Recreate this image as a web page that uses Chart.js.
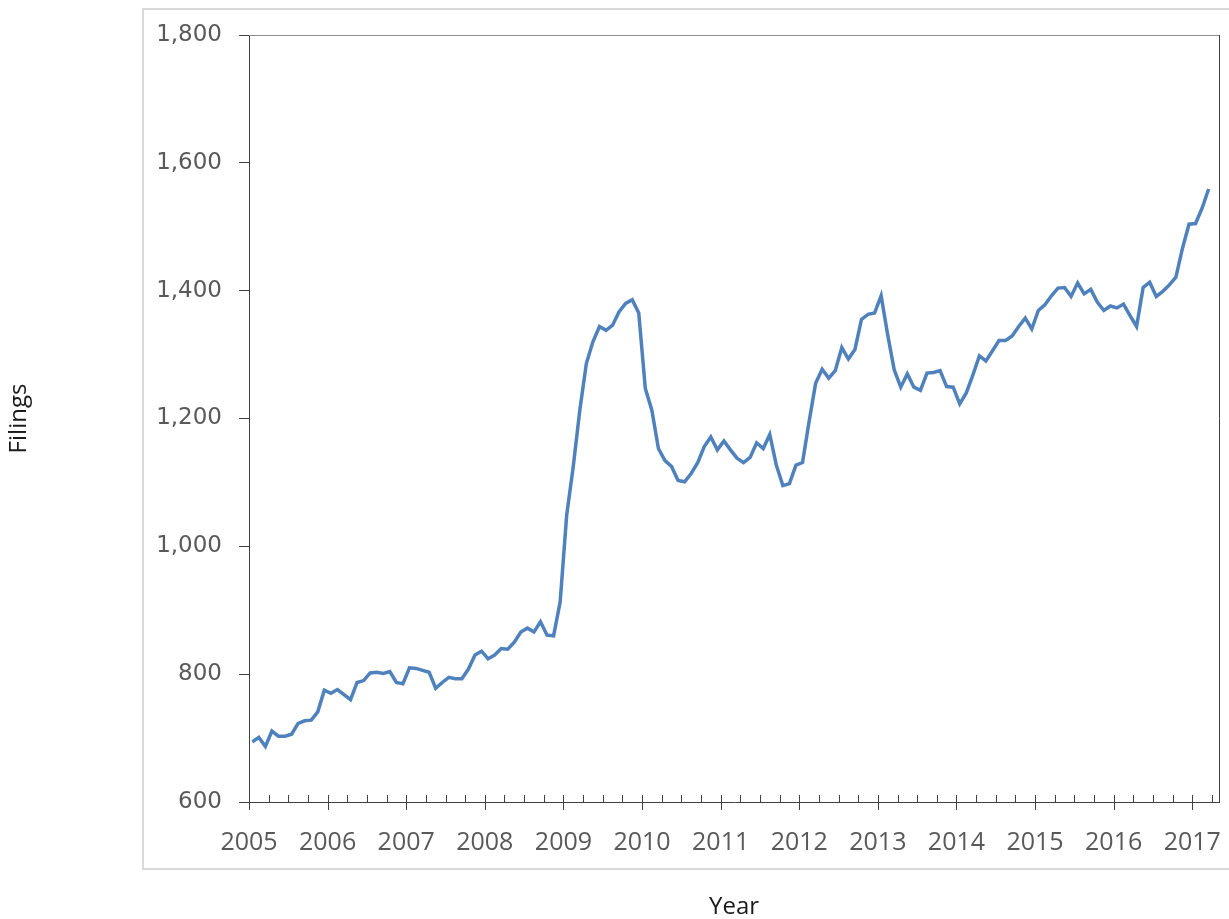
<!DOCTYPE html>
<html>
<head>
<meta charset="utf-8">
<script src="https://cdn.jsdelivr.net/npm/chart.js@4/dist/chart.umd.min.js"></script>
<style>
    body { margin: 0; background: #ffffff; }
    #wrap { position: relative; width: 1229px; height: 919px; overflow: hidden; }
    #frame { position: absolute; left: 142px; top: 8px; width: 1100px; height: 858px; border: 2px solid #d9d9d9; }
    #myChart { position: absolute; left: 0; top: 0; }
</style>
</head>
<body>
<div id="wrap">
    <div id="frame"></div>
    <canvas id="myChart" width="1229" height="919"></canvas>
</div>
<script>
// monthly filings, Jan 2005 .. Mar 2017
const startYear = 2005
const yearLabels = [2005, 2006, 2007, 2008, 2009, 2010, 2011, 2012, 2013, 2014, 2015, 2016, 2017]
const yTicks = [600, 800, 1000, 1200, 1400, 1600, 1800]
const filings = [
    694, 701, 687, 711, 703, 703, 706, 723, 727, 728, 741, 775,   // 2005
    770, 776, 768, 760, 787, 790, 802, 803, 801, 804, 787, 785,   // 2006
    810, 809, 806, 803, 778, 787, 795, 793, 793, 808, 830, 836,   // 2007
    824, 830, 840, 839, 850, 866, 872, 866, 882, 861, 860, 913,   // 2008
    1049, 1125, 1213, 1286, 1320, 1344, 1338, 1346, 1367, 1380, 1386, 1365, // 2009
    1247, 1213, 1153, 1134, 1125, 1103, 1101, 1114, 1131, 1156, 1171, 1151, // 2010
    1165, 1151, 1138, 1131, 1139, 1162, 1153, 1175, 1127, 1095, 1098, 1127, // 2011
    1131, 1195, 1255, 1277, 1263, 1275, 1311, 1293, 1308, 1355, 1363, 1365, // 2012
    1392, 1331, 1276, 1249, 1270, 1249, 1244, 1271, 1272, 1275, 1250, 1249, // 2013
    1223, 1240, 1268, 1298, 1290, 1306, 1322, 1322, 1329, 1344, 1357, 1340, // 2014
    1369, 1378, 1392, 1404, 1405, 1391, 1412, 1395, 1402, 1382, 1369, 1376, // 2015
    1373, 1379, 1361, 1344, 1405, 1413, 1391, 1399, 1409, 1421, 1466, 1504, // 2016
    1505, 1529, 1559                                                         // 2017
]

// plot-area frame (top/right) and the quarterly x ticks
const plotFrame = {
    id: 'plotFrame',
    afterDraw(chart) {
        const { ctx, chartArea } = chart
        const xs = chart.scales.x
        ctx.save()
        ctx.lineWidth = 1
        ctx.strokeStyle = '#8c8c8c'
        ctx.beginPath()
        ctx.moveTo(chartArea.left, chartArea.top + 0.5)
        ctx.lineTo(chartArea.right, chartArea.top + 0.5)
        ctx.stroke()
        ctx.strokeStyle = '#404040'
        ctx.beginPath()
        ctx.moveTo(chartArea.right + 0.5, chartArea.top)
        ctx.lineTo(chartArea.right + 0.5, chartArea.bottom)
        ctx.stroke()

        const base = chartArea.bottom
        for (let q = 0; q <= (yearLabels.length - 1) * 4 + 1; q++) {
            const px = Math.round(xs.getPixelForValue(startYear + q / 4)) + 0.5
            if (px > chartArea.right) break
            ctx.beginPath()
            ctx.moveTo(px, base - 7)
            ctx.lineTo(px, q % 4 === 0 ? base + 8 : base)
            ctx.stroke()
        }
        ctx.restore()
    }
}

const points = filings.map((v, i) => ({ x: startYear + (i + 0.5) / 12, y: v }))

const ctx = document.getElementById('myChart').getContext('2d')
new Chart(ctx, {
    type: 'line',
    data: {
        datasets: [{
            label: 'Filings',
            data: points,
            borderColor: '#4f81bd',
            borderWidth: 3.5,
            pointRadius: 0,
            tension: 0,
            fill: false
        }]
    },
    options: {
        responsive: false,
        animation: false,
        devicePixelRatio: 1,
        layout: { padding: { top: 35, right: 10, left: 0, bottom: 0 } },
        plugins: { legend: { display: false }, tooltip: { enabled: false } },
        scales: {
            x: {
                type: 'linear',
                min: startYear,
                max: 2017.34,
                afterBuildTicks: (scale) => { scale.ticks = yearLabels.map(v => ({ value: v })) },
                afterFit: (scale) => {
                    scale.height = 117
                    scale.paddingLeft = 0
                    scale.paddingRight = 0
                },
                grid: { display: false },
                border: { display: true, color: '#404040', width: 1 },
                ticks: {
                    callback: (v) => String(v),
                    font: { family: 'Open Sans', size: 25 },
                    color: '#595959',
                    padding: 18,
                    maxRotation: 0,
                    autoSkip: false
                },
                title: {
                    display: true,
                    text: 'Year',
                    font: { family: 'Open Sans', size: 24 },
                    color: '#1a1a1a',
                    padding: { top: 0, bottom: -3 }
                }
            },
            y: {
                min: 600,
                max: 1800,
                afterBuildTicks: (scale) => { scale.ticks = yTicks.map(v => ({ value: v })) },
                afterFit: (scale) => { scale.width = 249 },
                grid: { drawOnChartArea: false, drawTicks: true, tickLength: 10, tickColor: '#404040' },
                border: { display: true, color: '#404040', width: 1 },
                ticks: {
                    callback: (v) => v.toLocaleString('en-US'),
                    font: { family: 'DejaVu Sans', size: 23 },
                    color: '#595959',
                    padding: 17
                },
                title: {
                    display: true,
                    text: 'Filings',
                    font: { family: 'Open Sans', size: 24 },
                    color: '#1a1a1a',
                    padding: { top: 5, bottom: 0 }
                }
            }
        }
    },
    plugins: [plotFrame]
})
</script>
</body>
</html>
